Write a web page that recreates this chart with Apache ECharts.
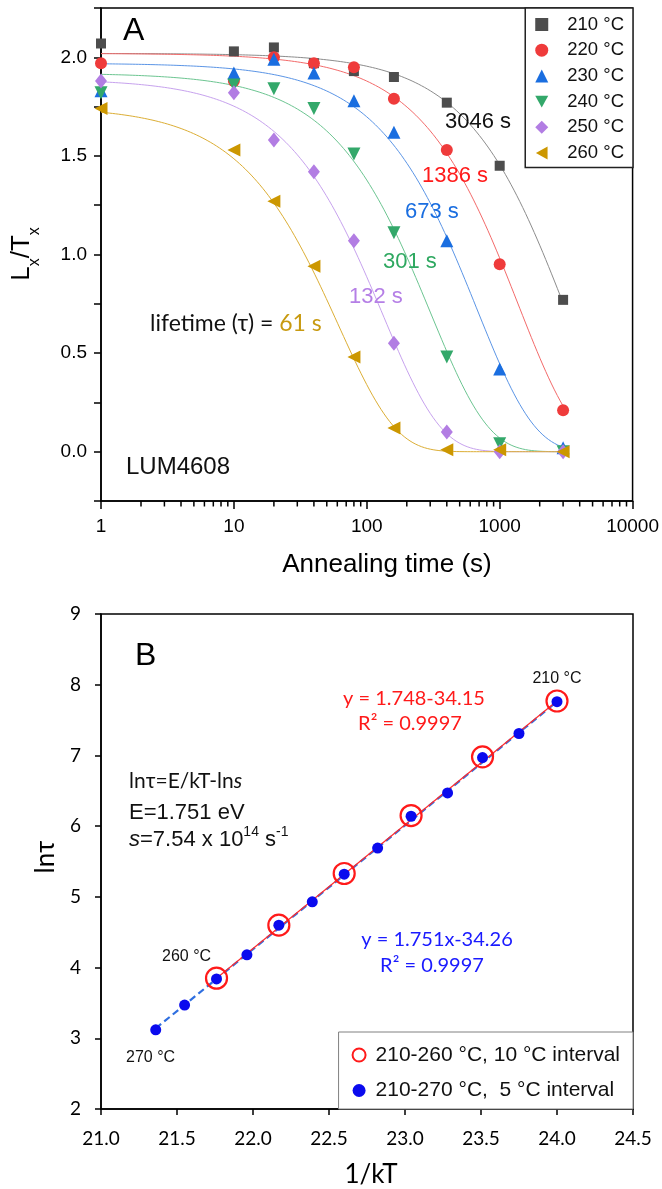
<!DOCTYPE html>
<html><head><meta charset="utf-8">
<script src="https://cdn.jsdelivr.net/npm/echarts@6/dist/echarts.min.js"></script>
<style>html,body{margin:0;padding:0;background:#fff}#c{width:662px;height:1189px}</style>
</head><body><div id="c"></div>
<script>
// ---------------- Panel A data ----------------
const annealTimes = [1, 10, 20, 40, 80, 160, 400, 1000, 3000];
const tempLabels = ['210 °C', '220 °C', '230 °C', '240 °C', '250 °C', '260 °C'];
const ratio210 = [2.07, 2.03, 2.05, 1.97, 1.93, 1.90, 1.77, 1.45, 0.77];
const ratio220 = [1.97, 1.88, 2.00, 1.97, 1.95, 1.79, 1.53, 0.95, 0.21];
const ratio230 = [1.83, 1.92, 1.99, 1.92, 1.78, 1.62, 1.07, 0.42, 0.02];
const ratio240 = [1.82, 1.86, 1.84, 1.74, 1.51, 1.11, 0.48, 0.04, 0.00];
const ratio250 = [1.88, 1.82, 1.58, 1.42, 1.07, 0.55, 0.10, 0.00, 0.00];
const ratio260 = [1.74, 1.53, 1.27, 0.94, 0.48, 0.12, 0.01, 0.01, 0.00];
// fitted single-exponential decay parameters (lifetime labels in the chart)
const lifetimes = [3046, 1386, 673, 301, 132, 61];
const fitAmplitude = [2.02, 2.02, 1.97, 1.92, 1.89, 1.75];
const fitEndTime = 3000;
const yTickLabelsA = ['0.0', '0.5', '1.0', '1.5', '2.0'];
const xTickLabelsA = ['1', '10', '100', '1000', '10000'];
const xMinorTicksA = [2,3,4,5,6,7,8,9,20,30,40,50,60,70,80,90,200,300,400,500,600,700,800,900,2000,3000,4000,5000,6000,7000,8000,9000];

// ---------------- Panel B data ----------------
const invKT5 = [21.36, 21.55, 21.76, 21.96, 22.17, 22.39, 22.60, 22.82, 23.04, 23.28, 23.51, 23.75, 24.00];
const lnTau5 = [3.12, 3.47, 3.84, 4.18, 4.60, 4.93, 5.32, 5.69, 6.14, 6.47, 6.97, 7.31, 7.76];
const invKT10 = [21.76, 22.17, 22.60, 23.04, 23.51, 24.00];
const lnTau10 = [3.85, 4.60, 5.33, 6.15, 6.98, 7.77];
const fitLineX10 = [21.76, 24.00];
const fitLineY10 = [3.85, 7.77];
const fitLineX5 = [21.36, 24.00];
const fitLineY5 = [3.14, 7.76];
const seriesNamesB = ['210-260 °C, 10 °C interval', '210-270 °C,  5 °C interval'];

const ratios = [ratio210, ratio220, ratio230, ratio240, ratio250, ratio260];
const markerColors = ['#4d4d4d', '#ef3b3b', '#1a6ee0', '#33a86a', '#b27de3', '#cc9700'];
const lineColors = ['#8c8c8c', '#f36a6a', '#5b95e6', '#6cc591', '#c7a2ee', '#dcae35'];
const symbols = ['rect', 'circle', 'triangle', 'triangle', 'diamond', 'triangle'];
const symbolRot = [0, 0, 0, 180, 0, 90];
const symbolSizes = [10, 12, 13, 13, [12, 15], 13];
const legendIcons = ['rect', 'circle', 'triangle', 'path://M0,0L2,0L1,1.8Z', 'diamond', 'path://M1.8,0L1.8,2L0,1Z'];

const ARIAL = '"Liberation Sans", Arial, sans-serif';
const CALI = 'Lato, "Noto Sans", sans-serif';
const Y_MIN_A = -0.25, Y_MAX_A = 2.25;

// sample the fitted model curves
const series = [];
ratios.forEach((arr, i) => {
  const pts = [];
  const n = 160;
  for (let k = 0; k <= n; k++) {
    const t = Math.pow(10, Math.log10(fitEndTime) * k / n);
    pts.push([t, fitAmplitude[i] * Math.exp(-t / lifetimes[i])]);
  }
  series.push({
    type: 'line', xAxisIndex: 0, yAxisIndex: 0, data: pts, showSymbol: false, silent: true,
    lineStyle: { color: lineColors[i], width: 1 }, z: 2
  });
});
ratios.forEach((arr, i) => {
  series.push({
    name: tempLabels[i], type: 'scatter', xAxisIndex: 0, yAxisIndex: 0,
    data: annealTimes.map((t, j) => [t, arr[j]]),
    symbol: symbols[i], symbolRotate: symbolRot[i], symbolSize: symbolSizes[i],
    itemStyle: { color: markerColors[i], opacity: 1 }, z: 3 + i
  });
});
// Panel B
series.push({
  type: 'line', xAxisIndex: 1, yAxisIndex: 1, silent: true, showSymbol: false,
  data: fitLineX5.map((x, i) => [x, fitLineY5[i]]),
  lineStyle: { color: '#2f6fe0', width: 2.2, type: [7, 4] }, z: 2
});
series.push({
  type: 'line', xAxisIndex: 1, yAxisIndex: 1, silent: true, showSymbol: false,
  data: fitLineX10.map((x, i) => [x, fitLineY10[i]]),
  lineStyle: { color: '#ff2a2a', width: 1.2 }, z: 3
});
series.push({
  name: seriesNamesB[0], type: 'scatter', xAxisIndex: 1, yAxisIndex: 1,
  data: invKT10.map((x, i) => [x, lnTau10[i]]),
  symbol: 'circle', symbolSize: 21,
  itemStyle: { color: 'rgba(255,255,255,0)', borderColor: '#ff1a1a', borderWidth: 2.2, opacity: 1 }, z: 4
});
series.push({
  name: seriesNamesB[1], type: 'scatter', xAxisIndex: 1, yAxisIndex: 1,
  data: invKT5.map((x, i) => [x, lnTau5[i]]),
  symbol: 'circle', symbolSize: 11,
  itemStyle: { color: '#0a0aee', opacity: 1 }, z: 5
});

function txt(x, y, text, font, fill, extra) {
  return Object.assign({ type: 'text', x: x, y: y, silent: true, z: 100,
    style: Object.assign({ text: text, font: font, fill: fill || '#000', align: 'left', verticalAlign: 'middle' }, (extra && extra.style) || {}) },
    extra && extra.el || {});
}

const graphics = [
  txt(123, 31, 'A', '32px ' + ARIAL),
  txt(445, 122, '3046 s', '22px ' + ARIAL, '#111'),
  txt(422, 176, '1386 s', '22px ' + ARIAL, '#ff1a1a'),
  txt(405, 212, '673 s', '22px ' + ARIAL, '#1a6ee0'),
  txt(383, 262, '301 s', '22px ' + ARIAL, '#2ea860'),
  txt(349, 297, '132 s', '22px ' + ARIAL, '#b57fe6'),
  txt(150, 324, '{b|lifetime (τ) = }{g|61 s}', '', '#111', { style: { rich: {
    b: { fontFamily: CALI, fontSize: 23, fill: '#111' }, g: { fontFamily: CALI, fontSize: 23, fill: '#c89a10' } } } }),
  txt(126, 467, 'LUM4608', '24px ' + ARIAL, '#111'),
  txt(26, 254, '{m|L}{s|x}{m|/T}{s|x}', '', '#000', { el: { rotation: Math.PI / 2 }, style: { align: 'center', rich: {
    m: { fontFamily: ARIAL, fontSize: 26, lineHeight: 34, verticalAlign: 'top' },
    s: { fontFamily: ARIAL, fontSize: 16, lineHeight: 16, verticalAlign: 'bottom' } } } }),
  txt(387, 565, 'Annealing time (s)', '26px ' + ARIAL, '#000', { style: { align: 'center' } }),
  // panel B
  txt(135, 656, 'B', '32px ' + ARIAL),
  txt(557, 679, '210 °C', '16px ' + ARIAL, '#111', { style: { align: 'center' } }),
  txt(414, 699, 'y = 1.748-34.15', '20px ' + CALI, '#ff1a1a', { style: { align: 'center' } }),
  txt(410, 724, 'R² = 0.9997', '20px ' + CALI, '#ff1a1a', { style: { align: 'center' } }),
  txt(129, 781, '{n|lnτ=E/kT-ln}{i|s}', '', '#111', { style: { rich: {
    n: { fontFamily: CALI, fontSize: 21, fill: '#111' }, i: { fontFamily: CALI, fontSize: 21, fontStyle: 'italic', fill: '#111' } } } }),
  txt(129, 813, 'E=1.751 eV', '22px ' + ARIAL, '#111'),
  txt(129, 838, '{i|s}{m|=7.54 x 10}{p|14}{m| s}{p|-1}', '', '#111', { style: { rich: {
    i: { fontFamily: ARIAL, fontSize: 22, fontStyle: 'italic', lineHeight: 26, verticalAlign: 'bottom', fill: '#111' },
    m: { fontFamily: ARIAL, fontSize: 22, lineHeight: 26, verticalAlign: 'bottom', fill: '#111' },
    p: { fontFamily: ARIAL, fontSize: 14, lineHeight: 14, verticalAlign: 'top', fill: '#111' } } } }),
  txt(162, 957, '260 °C', '16px ' + ARIAL, '#111'),
  txt(126, 1058, '270 °C', '16px ' + ARIAL, '#111'),
  txt(437, 940, 'y = 1.751x-34.26', '20px ' + CALI, '#1a1aff', { style: { align: 'center' } }),
  txt(432, 966, 'R² = 0.9997', '20px ' + CALI, '#1a1aff', { style: { align: 'center' } }),
  txt(46, 857, 'lnτ', '26px ' + CALI, '#000', { el: { rotation: Math.PI / 2 }, style: { align: 'center' } }),
  txt(371, 1175, '1/kT', '26px ' + CALI, '#000', { style: { align: 'center' } })
];

const axisLineS = { onZero: false, lineStyle: { color: '#000', width: 1.5 } };
const legendDataA = tempLabels.map((n, i) => ({ name: n, icon: legendIcons[i], itemStyle: { color: markerColors[i] } }));
const option = {
  animation: false,
  backgroundColor: '#fff',
  grid: [
    { left: 101, right: 29, top: 8, height: 493, show: true, borderColor: '#000', borderWidth: 1.5, backgroundColor: 'transparent' },
    { left: 101, right: 29, top: 614, height: 495, show: true, borderColor: '#000', borderWidth: 1.5, backgroundColor: 'transparent' }
  ],
  xAxis: [
    { gridIndex: 0, type: 'log', logBase: 10, min: 1, max: 10000, position: 'bottom', axisLine: axisLineS,
      axisTick: { length: 8, lineStyle: { color: '#000', width: 1.5 } },
      axisLabel: { fontFamily: ARIAL, fontSize: 19, color: '#000', margin: 16,
        formatter: v => { const i = Math.round(Math.log10(v)); return xTickLabelsA[i] || ''; } },
      splitLine: { show: false } },
    { gridIndex: 1, type: 'value', min: 21, max: 24.5, interval: 0.5, axisLine: axisLineS,
      axisTick: { length: 6, lineStyle: { color: '#000', width: 1.5 } },
      axisLabel: { fontFamily: CALI, fontSize: 19, color: '#000', margin: 20, formatter: v => v.toFixed(1) },
      splitLine: { show: false } }
  ],
  yAxis: [
    { gridIndex: 0, type: 'value', min: Y_MIN_A, max: Y_MAX_A, interval: 0.25, axisLine: axisLineS,
      axisTick: { length: 7, lineStyle: { color: '#000', width: 1.5 } },
      axisLabel: { fontFamily: ARIAL, fontSize: 19, color: '#000', margin: 14,
        formatter: v => { const k = Math.round(v * 2); return (Math.abs(v * 2 - k) < 1e-6 && k >= 0 && k <= 4) ? yTickLabelsA[k] : ''; } },
      splitLine: { show: false } },
    { gridIndex: 1, type: 'value', min: 2, max: 9, interval: 1, axisLine: axisLineS,
      axisTick: { length: 6, lineStyle: { color: '#000', width: 1.5 } },
      axisLabel: { fontFamily: CALI, fontSize: 19, color: '#000', margin: 20 },
      splitLine: { show: false } }
  ],
  legend: [
    { data: legendDataA, orient: 'vertical', right: 29, top: 8, selectedMode: false,
      backgroundColor: '#fff', borderColor: '#222', borderWidth: 1.5, borderRadius: 0,
      padding: [7, 9, 5, 10], itemGap: 6.7, itemWidth: 13, itemHeight: 13, symbolKeepAspect: true,
      textStyle: { fontFamily: ARIAL, fontSize: 18.5, color: '#111', lineHeight: 16, padding: [0, 0, 0, 14] } },
    { data: [
        { name: seriesNamesB[0], icon: 'circle', itemStyle: { color: 'rgba(255,255,255,0)', borderColor: '#ff1a1a', borderWidth: 2 } },
        { name: seriesNamesB[1], icon: 'circle', itemStyle: { color: '#0a0aee', borderWidth: 0 } }
      ],
      orient: 'vertical', right: 29, bottom: 80, selectedMode: false,
      backgroundColor: '#fff', borderColor: '#808080', borderWidth: 1,
      padding: [12.5, 13, 8, 13], itemGap: 14.5, itemWidth: 13, itemHeight: 13,
      textStyle: { fontFamily: ARIAL, fontSize: 21, color: '#111', lineHeight: 18, padding: [0, 0, 0, 5] } }
  ],
  series: series,
  graphic: graphics
};
const chart = echarts.init(document.getElementById('c'), null, { renderer: 'canvas' });
chart.setOption(option);

// minor log ticks on panel A's bottom axis, placed through the axis scale
const minorTickEls = xMinorTicksA.map(v => {
  const p = chart.convertToPixel({ xAxisIndex: 0, yAxisIndex: 0 }, [v, Y_MIN_A]);
  return { type: 'line', silent: true, z: 50,
    shape: { x1: p[0], y1: p[1], x2: p[0], y2: p[1] + 5.5 },
    style: { stroke: '#000', lineWidth: 1.5 } };
});
chart.setOption({ graphic: graphics.concat(minorTickEls) });
</script></body></html>
